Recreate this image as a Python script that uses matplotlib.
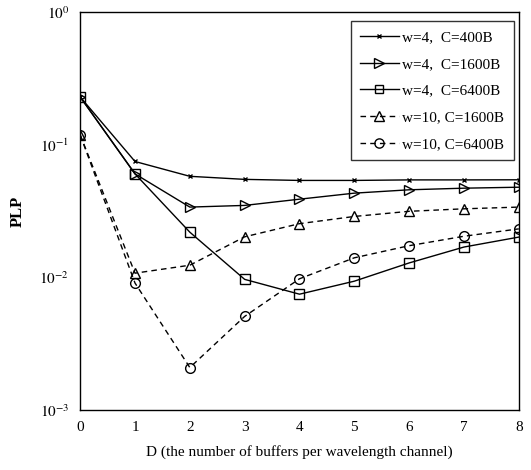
import matplotlib
matplotlib.use("Agg")
import matplotlib.pyplot as plt

plt.rcParams['font.family'] = ['Liberation Serif', 'DejaVu Serif']
plt.rcParams['mathtext.fontset'] = 'stix'

D = [0, 1, 2, 3, 4, 5, 6, 7, 8]
w4_c400 = [0.23, 0.075, 0.058, 0.055, 0.054, 0.054, 0.0545, 0.0545, 0.0546]
w4_c1600 = [0.23, 0.0605, 0.034, 0.035, 0.039, 0.0433, 0.0459, 0.0472, 0.048]
w4_c6400 = [0.23, 0.0605, 0.022, 0.0097, 0.0075, 0.0094, 0.0129, 0.017, 0.0202]
w10_c1600 = [0.119, 0.0108, 0.0124, 0.0203, 0.0255, 0.0289, 0.0316, 0.033, 0.034]
w10_c6400 = [0.119, 0.0091, 0.0021, 0.0051, 0.0098, 0.0141, 0.0174, 0.0205, 0.0233]
labels = ['w=4,  C=400B', 'w=4,  C=1600B', 'w=4,  C=6400B',
          'w=10, C=1600B', 'w=10, C=6400B']
yticks = [1e-3, 1e-2, 1e-1, 1e0]
ytick_labels = [r'$10^{-3}$', r'$10^{-2}$', r'$10^{-1}$', r'$10^{0}$']

fig = plt.figure(figsize=(5.31, 4.70), dpi=100)
ax = fig.add_axes([0.151, 0.127, 0.826, 0.847])

mk = dict(color='black', linewidth=1.0, markerfacecolor='none',
          markeredgecolor='black', markeredgewidth=1.0)
ax.plot(D, w4_c400, '-', marker='x', markersize=3.5, label=labels[0], **mk)
ax.plot(D, w4_c1600, '-', marker='>', markersize=7.5, label=labels[1], **mk)
ax.plot(D, w4_c6400, '-', marker='s', markersize=6.5, label=labels[2], **mk)
ax.plot(D, w10_c1600, '--', marker='^', markersize=7, label=labels[3],
        dashes=(4, 3), **mk)
ax.plot(D, w10_c6400, '--', marker='o', markersize=7, label=labels[4],
        dashes=(4, 3), **mk)

ax.set_yscale('log')
ax.set_xlim(0, 8)
ax.set_ylim(1e-3, 1e0)
ax.set_xticks(D)
ax.set_xticklabels([str(d) for d in D])
ax.set_yticks(yticks)
ax.set_yticklabels(ytick_labels)
ax.minorticks_off()
ax.tick_params(axis='both', length=0, labelsize=11, pad=8)
for sp in ax.spines.values():
    sp.set_linewidth(1.0)

ax.set_xlabel('D (the number of buffers per wavelength channel)', fontsize=11,
              labelpad=8)
ax.set_ylabel('PLP', fontsize=12, fontweight='bold', labelpad=10)

leg = ax.legend(loc='upper right', bbox_to_anchor=(0.988, 0.977), fontsize=11,
                frameon=True, fancybox=False, edgecolor='black',
                handlelength=2.5, borderpad=0.6, labelspacing=0.85,
                handletextpad=0.25, borderaxespad=0.0, markerscale=0.95)
leg.get_frame().set_linewidth(1.0)

fig.savefig('out.png', dpi=100)
